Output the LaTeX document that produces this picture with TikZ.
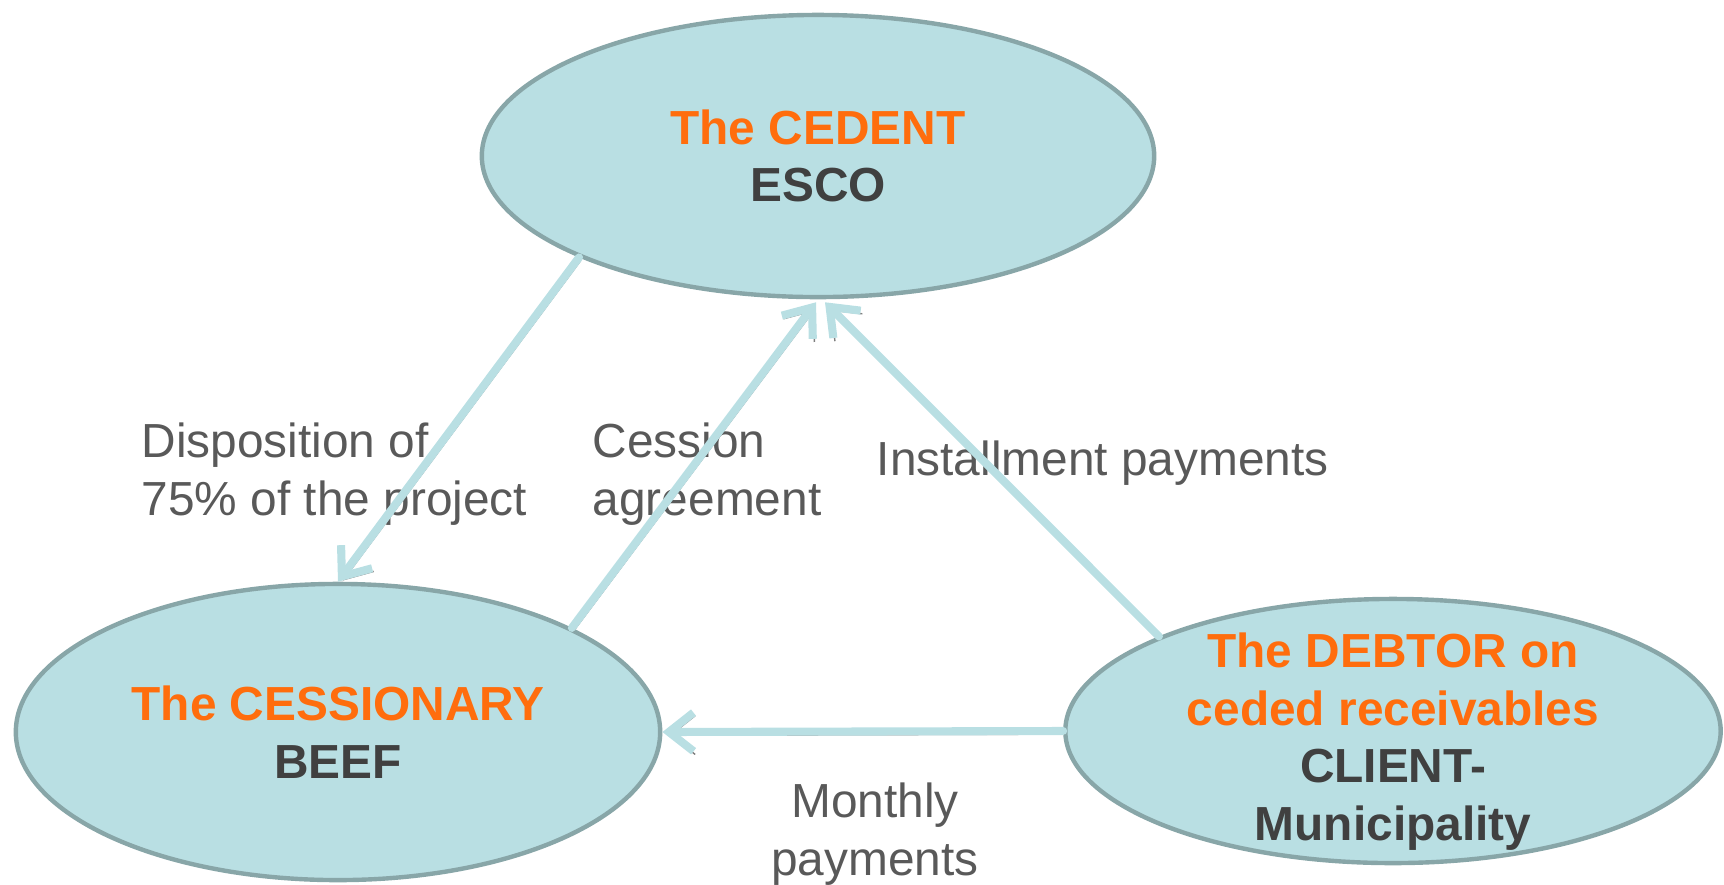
\documentclass[tikz,border=0pt]{standalone}
\usepackage{fontspec}
\setmainfont{Liberation Sans}
\usetikzlibrary{shapes.geometric,arrows.meta}
\definecolor{bubble}{HTML}{B9DFE3}
\definecolor{bubbleedge}{HTML}{88A6A8}
\definecolor{flowshade}{HTML}{7F7F7F}
\definecolor{rolecol}{HTML}{FF6D0D}
\definecolor{namecol}{HTML}{404040}
\definecolor{labelcol}{HTML}{595959}

\begin{document}
\begin{tikzpicture}[x=0.01cm, y=-0.01cm,
    party/.style={ellipse, draw=bubbleedge, fill=bubble, line width=1.25pt, inner sep=0pt},
    partytext/.style={align=center, inner sep=0pt, font=\fontsize{13.6}{16.4}\selectfont\bfseries},
    flow/.style={draw=bubble, line width=2.3pt, line cap=round,
      -{Straight Barb[length=7pt,width=11pt]},
      preaction={draw=flowshade, transform canvas={shift={(0.45pt,-0.9pt)}}}},
    note/.style={text=labelcol, inner sep=0pt, font=\fontsize{13.6}{16.4}\selectfont}]
  \useasboundingbox (0,0) rectangle (1724,884);

  \node[party, minimum width=6.72cm, minimum height=2.82cm] (cedent) at (818,156) {};
  \node[party, minimum width=6.44cm, minimum height=2.96cm] (cessionary) at (338,732) {};
  \node[party, minimum width=6.55cm, minimum height=2.64cm] (debtor) at (1393,731) {};

  \node[partytext] (cedent-text) at (cedent) {\textcolor{rolecol}{The CEDENT}\\\textcolor{namecol}{ESCO}};
  \node[partytext] (cessionary-text) at (cessionary) {\textcolor{rolecol}{The CESSIONARY}\\\textcolor{namecol}{BEEF}};
  \node[partytext] (debtor-text) at ([yshift=-3]debtor) {\textcolor{rolecol}{The DEBTOR on}\\\textcolor{rolecol}{ceded receivables}\\\textcolor{namecol}{CLIENT-}\\\textcolor{namecol}{Municipality}};

  \node[note, anchor=west, align=left] (disposition) at (141,474) {Disposition of\\75\% of the project};
  \node[note, anchor=west, align=left] (agreement) at (592,474) {Cession\\agreement};
  \node[note, anchor=west] (installment) at (876,463) {Installment payments};
  \node[note, align=center] (monthly) at (875,834) {Monthly\\payments};

  \draw[flow] (cedent.203) -- (cessionary.north);
  \draw[flow] (cessionary.24) -- ([shift={(-2,3)}]cedent.south);
  \draw[flow] (debtor.158) -- ([shift={(7,3)}]cedent.south);
  \draw[flow] (debtor.west) -- (cessionary.east);
\end{tikzpicture}
\end{document}
